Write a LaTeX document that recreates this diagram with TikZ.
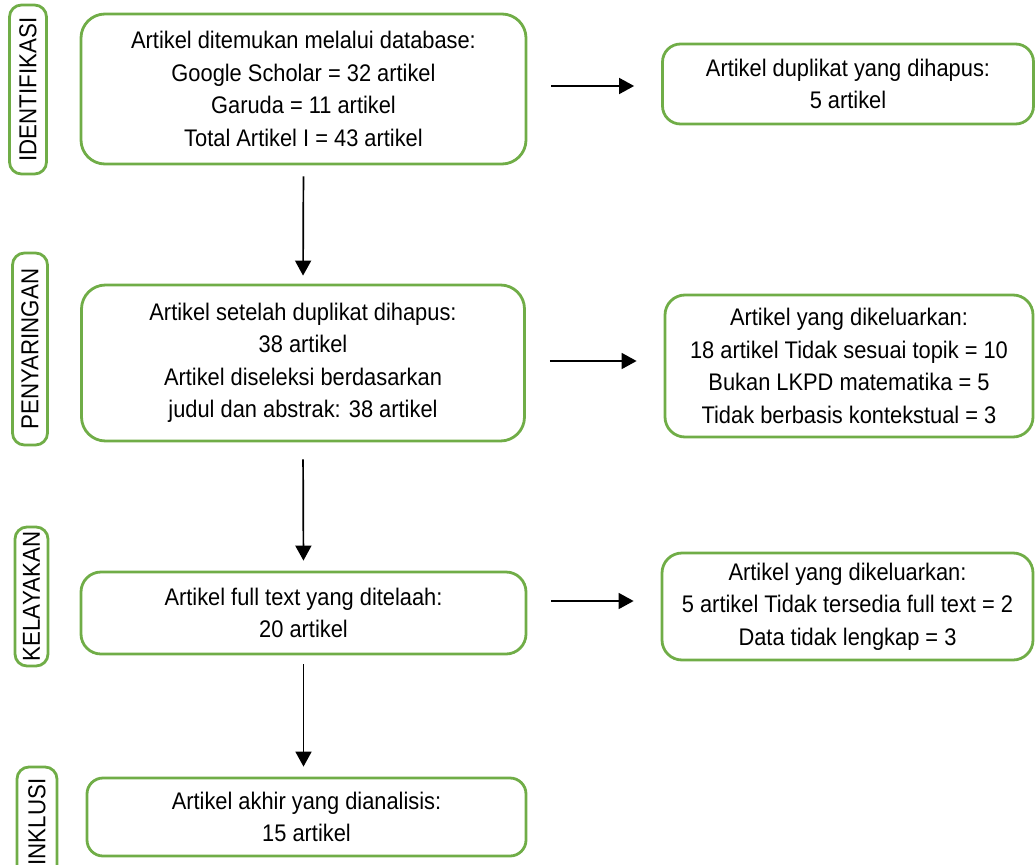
\documentclass[tikz,border=0pt]{standalone}
\usepackage{fontspec}
\setmainfont[FakeStretch=0.91]{Liberation Sans}
\usetikzlibrary{arrows.meta}
\definecolor{hijau}{HTML}{70AD47}
\begin{document}
\begin{tikzpicture}[x=1pt,y=-1pt,>={Triangle[length=15pt,width=16pt]},line width=1.7pt,
	kotak/.style={draw=hijau,line width=2.8pt,align=center,inner sep=0pt,font=\fontsize{24}{32.5}\selectfont},
	tahap/.style={draw=hijau,line width=2.8pt,rounded corners=12pt,rotate=90,inner sep=0pt,font=\fontsize{24.5}{26}\selectfont}]
		\useasboundingbox (0,0) rectangle (1035,864);
		\node[kotak,rounded corners=24pt,minimum width=445pt,minimum height=150pt] (idn) at (303.5,89) {Artikel ditemukan melalui database:\\Google Scholar = 32 artikel\\Garuda = 11 artikel\\Total Artikel I = 43 artikel};
		\node[kotak,rounded corners=18pt,minimum width=371pt,minimum height=80pt] (dup) at (848,84) {Artikel duplikat yang dihapus:\\5 artikel};
		\node[kotak,rounded corners=24pt,minimum width=443pt,minimum height=156pt] (sar) at (303,363) {Artikel setelah duplikat dihapus:\\38 artikel\\Artikel diseleksi berdasarkan\\judul dan abstrak: 38 artikel};
		\node[kotak,rounded corners=20pt,minimum width=368pt,minimum height=142pt] (kel1) at (849,366) {Artikel yang dikeluarkan:\\18 artikel Tidak sesuai topik = 10\\Bukan LKPD matematika = 5\\Tidak berbasis kontekstual = 3};
		\node[kotak,rounded corners=20pt,minimum width=445pt,minimum height=82pt] (tel) at (303.5,613) {Artikel full text yang ditelaah:\\20 artikel};
		\node[kotak,rounded corners=20pt,minimum width=371pt,minimum height=107pt] (kel2) at (847.5,606.5) {Artikel yang dikeluarkan:\\5 artikel Tidak tersedia full text = 2\\Data tidak lengkap = 3};
		\node[kotak,rounded corners=16pt,minimum width=439pt,minimum height=78pt] (akh) at (306.5,817) {Artikel akhir yang dianalisis:\\15 artikel};
		\node[tahap,minimum width=169pt,minimum height=37pt] (t1) at (28,89.5) {IDENTIFIKASI};
		\node[tahap,minimum width=192pt,minimum height=35pt] (t2) at (30,349) {PENYARINGAN};
		\node[tahap,minimum width=139pt,minimum height=33pt] (t3) at (31.5,596.5) {KELAYAKAN};
		\node[tahap,minimum width=110pt,minimum height=40pt] (t4) at (37,822) {INKLUSI};
		\draw[->,shorten <=11pt,shorten >=8pt] (idn.south) -- (sar.north);
		\draw[->,shorten <=17pt,shorten >=10pt] (sar.south) -- (tel.north);
		\draw[->,shorten <=9pt,shorten >=10pt] (tel.south) -- (akh.north -| tel.south);
		\draw[->,shorten <=24pt,shorten >=27pt] ([yshift=3pt]idn.east) -- ([yshift=3pt]idn.east -| dup.west);
		\draw[->,shorten <=24pt,shorten >=27pt] ([yshift=2pt]sar.east) -- ([yshift=2pt]sar.east -| kel1.west);
		\draw[->,shorten <=24pt,shorten >=27pt] ([yshift=12pt]tel.east) -- ([yshift=12pt]tel.east -| kel2.west);
\end{tikzpicture}
\end{document}
